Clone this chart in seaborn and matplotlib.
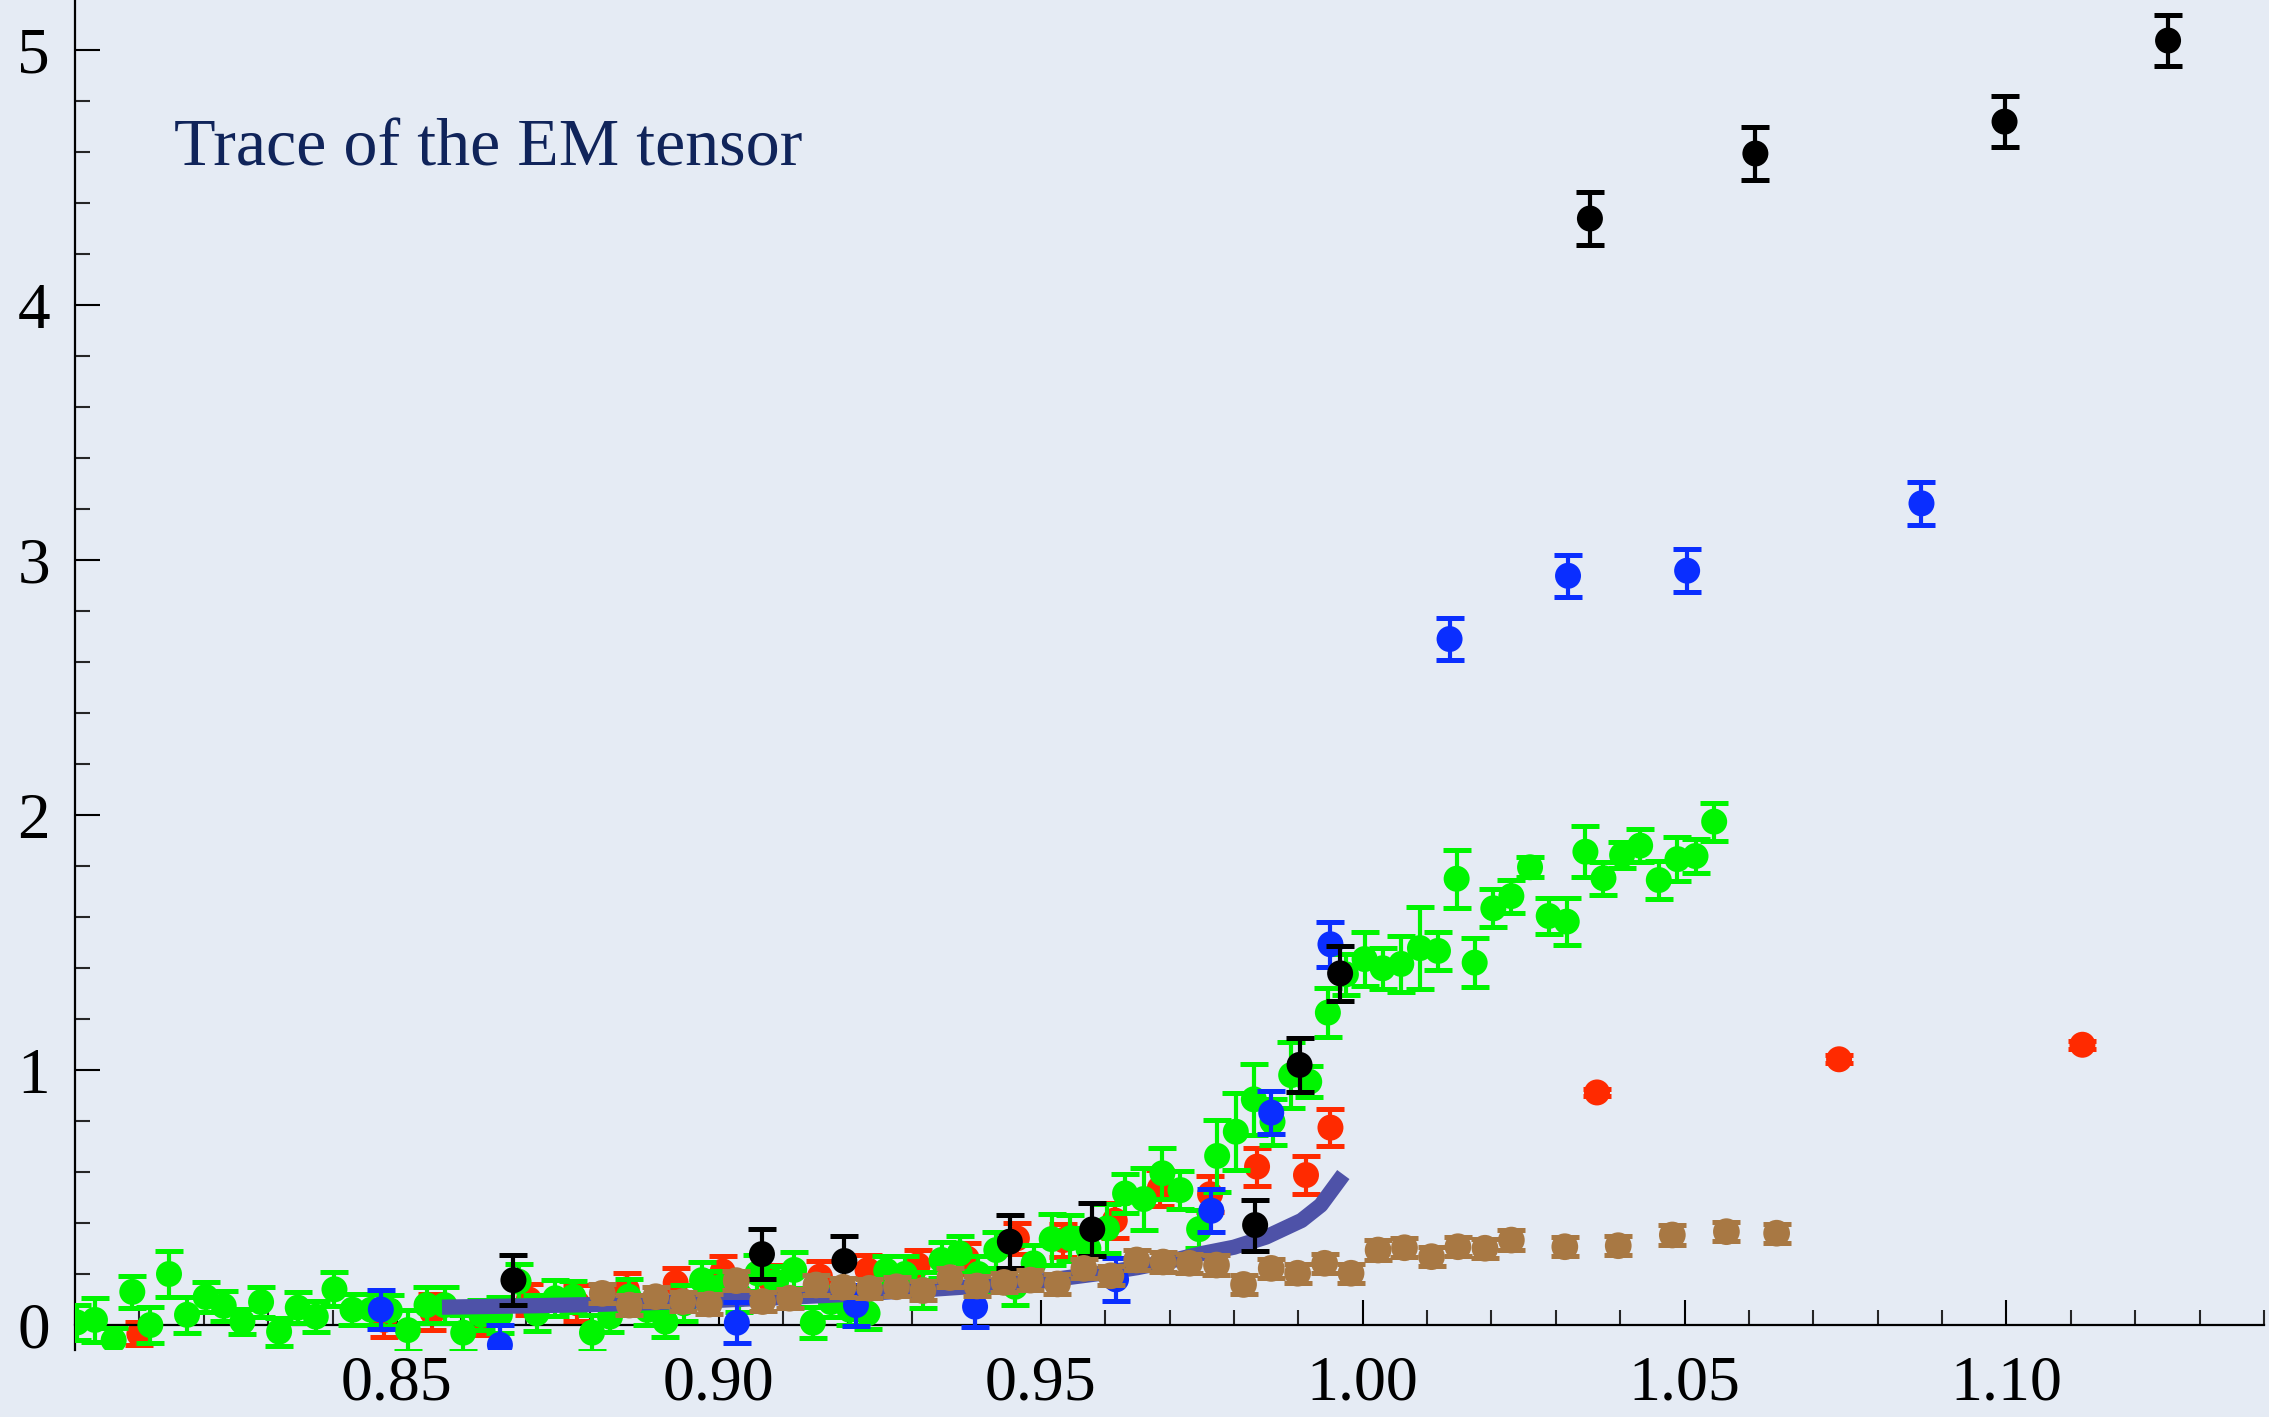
import numpy as np
import pandas as pd
import matplotlib
matplotlib.use("Agg")
import matplotlib.pyplot as plt
from matplotlib.ticker import MultipleLocator, FixedLocator
import seaborn as sns

# ---------------- data ----------------
green_x = [0.8003, 0.8031, 0.8060, 0.8089, 0.8117, 0.8146, 0.8174, 0.8203, 0.8231, 0.8260,
           0.8289, 0.8317, 0.8346, 0.8374, 0.8403, 0.8431, 0.8460, 0.8489, 0.8517, 0.8546,
           0.8574, 0.8603, 0.8631, 0.8660, 0.8689, 0.8717, 0.8746, 0.8774, 0.8803, 0.8831,
           0.8860, 0.8889, 0.8917, 0.8946, 0.8974, 0.9003, 0.9031, 0.9060, 0.9089, 0.9117,
           0.9146, 0.9174, 0.9203, 0.9231, 0.9260, 0.9289, 0.9317, 0.9346, 0.9374, 0.9403,
           0.9431, 0.9460, 0.9489, 0.9517, 0.9546, 0.9574, 0.9603, 0.9631, 0.9660, 0.9689,
           0.9717, 0.9746, 0.9774, 0.9803, 0.9831, 0.9860, 0.9889, 0.9917, 0.9946, 0.9974,
           1.0003, 1.0031, 1.0060, 1.0089, 1.0117, 1.0146, 1.0174, 1.0203, 1.0231, 1.0260,
           1.0289, 1.0317, 1.0346, 1.0374, 1.0403, 1.0431, 1.0460, 1.0489, 1.0517, 1.0546]
green_y = [0.01, 0.02, -0.06, 0.13, 0.00, 0.20, 0.04, 0.11, 0.075, 0.013,
           0.09, -0.026, 0.068, 0.033, 0.14, 0.06, 0.06, 0.057, -0.02, 0.078,
           0.078, -0.03, 0.04, 0.04, 0.17, 0.046, 0.105, 0.111, -0.03, 0.033,
           0.111, 0.059, 0.013, 0.085, 0.176, 0.15, 0.12, 0.203, 0.17, 0.216,
           0.009, 0.09, 0.06, 0.046, 0.213, 0.20, 0.137, 0.255, 0.281, 0.20,
           0.294, 0.15, 0.242, 0.337, 0.34, 0.30, 0.379, 0.516, 0.494, 0.595,
           0.529, 0.376, 0.663, 0.758, 0.885, 0.797, 0.98, 0.954, 1.225, 1.375,
           1.435, 1.399, 1.416, 1.478, 1.467, 1.75, 1.421, 1.634, 1.682, 1.795,
           1.604, 1.582, 1.856, 1.752, 1.843, 1.88, 1.745, 1.827, 1.839, 1.974]
green_err = [0.07, 0.086, 0.05, 0.063, 0.07, 0.09, 0.07, 0.06, 0.06, 0.05,
             0.06, 0.055, 0.06, 0.06, 0.067, 0.06, 0.06, 0.06, 0.08, 0.07,
             0.07, 0.07, 0.06, 0.07, 0.07, 0.07, 0.07, 0.06, 0.07, 0.06,
             0.07, 0.06, 0.06, 0.07, 0.07, 0.06, 0.07, 0.07, 0.06, 0.07,
             0.06, 0.06, 0.06, 0.06, 0.057, 0.07, 0.07, 0.07, 0.07, 0.07,
             0.07, 0.07, 0.07, 0.10, 0.09, 0.08, 0.095, 0.078, 0.12, 0.10,
             0.074, 0.075, 0.14, 0.15, 0.14, 0.09, 0.13, 0.06, 0.095, 0.08,
             0.105, 0.08, 0.11, 0.16, 0.075, 0.113, 0.097, 0.075, 0.065, 0.04,
             0.07, 0.093, 0.10, 0.064, 0.052, 0.065, 0.073, 0.085, 0.066, 0.075]

red_x = [0.8100, 0.8480, 0.8555, 0.8633, 0.8705, 0.8780, 0.8857, 0.8933, 0.9006, 0.9080,
         0.9157, 0.9231, 0.9309, 0.9385, 0.9463, 0.9535, 0.9615, 0.9685, 0.9763, 0.9836,
         0.9912, 0.9950, 1.0364, 1.0740, 1.1118]
red_y = [-0.035, 0.02, 0.05, 0.02, 0.10, 0.085, 0.14, 0.165, 0.21, 0.176,
         0.19, 0.215, 0.235, 0.261, 0.34, 0.333, 0.41, 0.536, 0.513, 0.621,
         0.588, 0.774, 0.912, 1.042, 1.099]
red_err = [0.045, 0.067, 0.07, 0.06, 0.06, 0.07, 0.065, 0.06, 0.06, 0.06,
           0.06, 0.06, 0.06, 0.06, 0.06, 0.065, 0.07, 0.07, 0.07, 0.075,
           0.073, 0.072, 0.015, 0.015, 0.015]

blue_x = [0.8475, 0.8660, 0.9028, 0.9213, 0.9398, 0.9617, 0.9765, 0.9858, 0.9950,
          1.0135, 1.0319, 1.0504, 1.0868]
blue_y = [0.061, -0.078, 0.009, 0.078, 0.072, 0.179, 0.448, 0.833, 1.493,
          2.69, 2.938, 2.958, 3.222]
blue_err = [0.078, 0.078, 0.08, 0.08, 0.078, 0.083, 0.085, 0.084, 0.088,
            0.082, 0.082, 0.085, 0.085]

black_x = [0.8681, 0.9067, 0.9195, 0.9452, 0.9580, 0.9833, 0.9902, 0.9965,
           1.0353, 1.0610, 1.0997, 1.1251]
black_y = [0.176, 0.278, 0.251, 0.327, 0.375, 0.392, 1.02, 1.379,
           4.339, 4.594, 4.719, 5.037]
black_err = [0.098, 0.098, 0.10, 0.103, 0.103, 0.10, 0.106, 0.107,
             0.105, 0.105, 0.10, 0.10]

brown_x = [0.8819, 0.8861, 0.8902, 0.8944, 0.8985, 0.9027, 0.9068, 0.9110, 0.9151, 0.9193,
           0.9234, 0.9276, 0.9317, 0.9359, 0.9401, 0.9443, 0.9484, 0.9526, 0.9567, 0.9609,
           0.9649, 0.9690, 0.9731, 0.9773, 0.9815, 0.9858, 0.9899, 0.9941, 0.9982, 1.0024,
           1.0065, 1.0107, 1.0148, 1.0190, 1.0231, 1.0314, 1.0397, 1.0481, 1.0565, 1.0643]
brown_y = [0.124, 0.078, 0.111, 0.092, 0.082, 0.174, 0.092, 0.105, 0.157, 0.148,
           0.144, 0.150, 0.135, 0.186, 0.153, 0.167, 0.176, 0.161, 0.222, 0.193,
           0.255, 0.247, 0.242, 0.235, 0.159, 0.222, 0.203, 0.242, 0.203, 0.294,
           0.303, 0.268, 0.307, 0.301, 0.333, 0.307, 0.311, 0.353, 0.366, 0.360]
brown_err = [0.038] * 40

curve_x = [0.857, 0.870, 0.880, 0.890, 0.900, 0.910, 0.920, 0.930, 0.940, 0.950,
           0.960, 0.965, 0.970, 0.975, 0.980, 0.985, 0.9905, 0.9935, 0.997]
curve_y = [0.070, 0.075, 0.080, 0.088, 0.097, 0.108, 0.120, 0.135, 0.152, 0.172,
           0.205, 0.225, 0.250, 0.280, 0.305, 0.345, 0.410, 0.470, 0.590]

x_major = [0.85, 0.90, 0.95, 1.00, 1.05, 1.10]
x_major_labels = ["0.85", "0.90", "0.95", "1.00", "1.05", "1.10"]
y_major = [0, 1, 2, 3, 4, 5]
y_major_labels = ["0", "1", "2", "3", "4", "5"]
title_text = "Trace of the EM tensor"

# ---------------- style ----------------
sns.set_theme(style="ticks")
plt.rcParams["font.family"] = ["Liberation Serif", "DejaVu Serif"]

BG = "#e5ebf4"
W, H = 2269, 1417
fig = plt.figure(figsize=(W / 100, H / 100), dpi=100, facecolor=BG)
ax = fig.add_axes([75 / W, 1 - 1350 / H, (2264 - 75) / W, 1350 / H])
ax.set_facecolor(BG)

c_green = "#00f500"
c_red = "#ff2a00"
c_blue = "#0a2eff"
c_black = "#000000"
c_brown = "#a87843"
c_line = "#4e52a8"

def series(x, y, err, color, z, s=350, cap=10, marker="o"):
    ax.errorbar(x, y, yerr=err, fmt="none", ecolor=color, elinewidth=3.0,
                capsize=cap, capthick=3.6, zorder=z)
    df = pd.DataFrame({"x": x, "y": y})
    sns.scatterplot(data=df, x="x", y="y", color=color, s=s, marker=marker,
                    edgecolor="none", linewidth=0, ax=ax, zorder=z + 0.1, legend=False)

series(red_x, red_y, red_err, c_red, 2)
series(green_x, green_y, green_err, c_green, 3)
curve_df = pd.DataFrame({"x": curve_x, "y": curve_y})
sns.lineplot(data=curve_df, x="x", y="y", color=c_line, linewidth=11,
             sort=False, ax=ax, zorder=4, solid_capstyle="butt")
series(blue_x, blue_y, blue_err, c_blue, 5)
series(black_x, black_y, black_err, c_black, 6)
series(brown_x, brown_y, brown_err, c_brown, 7, s=370, cap=10)

ax.set_xlim(0.80, 1.14)
ax.set_ylim(-0.098, 5.196)
ax.set_xlabel("")
ax.set_ylabel("")

for sp in ["top", "right"]:
    ax.spines[sp].set_visible(False)
ax.spines["bottom"].set_position(("data", 0))
ax.spines["left"].set_linewidth(1.6)
ax.spines["bottom"].set_linewidth(1.6)
ax.spines["left"].set_color("black")
ax.spines["bottom"].set_color("black")

ax.xaxis.set_major_locator(FixedLocator(x_major))
ax.set_xticklabels(x_major_labels)
ax.xaxis.set_minor_locator(MultipleLocator(0.01))
ax.yaxis.set_major_locator(FixedLocator(y_major))
ax.set_yticklabels(y_major_labels)
ax.yaxis.set_minor_locator(MultipleLocator(0.2))

ax.tick_params(axis="x", which="major", direction="in", length=18, width=1.5,
               pad=22, labelsize=46, colors="black")
ax.tick_params(axis="x", which="minor", direction="in", length=10.5, width=1.5)
ax.tick_params(axis="y", which="major", direction="in", length=18, width=1.5,
               pad=18, labelsize=47, colors="black")
ax.tick_params(axis="y", which="minor", direction="in", length=10.5, width=1.5)

fig.text(174 / W, 1 - 165 / H, title_text, fontsize=49, color="#10245a",
         ha="left", va="baseline", family=["Liberation Serif", "DejaVu Serif"])

fig.savefig("out.png", dpi=100, facecolor=BG)
